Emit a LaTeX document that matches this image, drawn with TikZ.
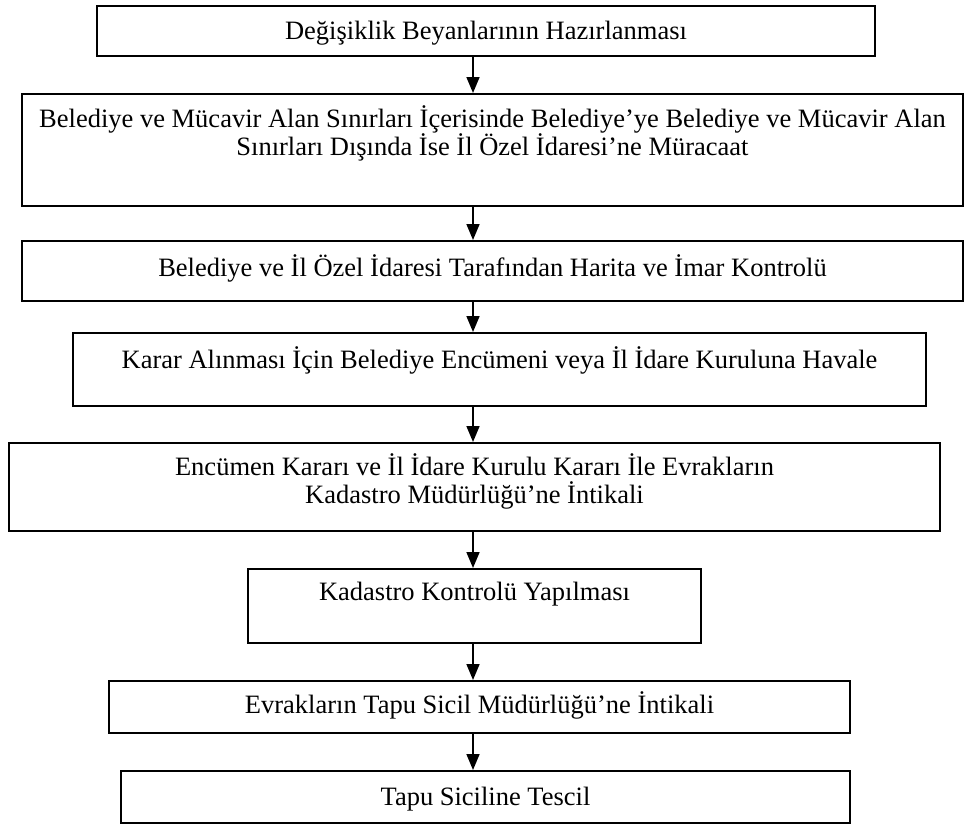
\documentclass[tikz,border=0pt]{standalone}
\usepackage{fontspec}
\setmainfont{Liberation Serif}
\usetikzlibrary{arrows.meta}

\tikzset{
  flowbox/.style={draw=black, line width=1.9pt, rectangle, anchor=north,
    inner sep=0pt, align=center, font=\fontsize{26.5}{28.5}\selectfont},
  flowarrow/.style={line width=1.7pt, -{Triangle[length=16pt,width=13pt]}}
}

\begin{document}
\begin{tikzpicture}[x=1pt, y=-1pt]
  \useasboundingbox (0,0) rectangle (967,825);
  \fill[white] (0,0) rectangle (967,825);

  % vertical axis carrying all the connectors
  \coordinate (axis) at (473,0);

  \node[flowbox, minimum width=778pt, text height=34pt, text depth=16pt]
    (b1) at (486,5) {Değişiklik Beyanlarının Hazırlanması};

  \node[flowbox, minimum width=941pt, text height=62pt, text depth=50pt]
    (b2) at (492.5,93) {Belediye ve Mücavir Alan Sınırları İçerisinde Belediye’ye Belediye ve Mücavir Alan\\
    Sınırları Dışında İse İl Özel İdaresi’ne Müracaat};

  \node[flowbox, minimum width=941pt, text height=36pt, text depth=24pt]
    (b3) at (492.5,240) {Belediye ve İl Özel İdaresi Tarafından Harita ve İmar Kontrolü};

  \node[flowbox, minimum width=853pt, text height=36pt, text depth=37pt]
    (b4) at (499.5,332) {Karar Alınması İçin Belediye Encümeni veya İl İdare Kuruluna Havale};

  \node[flowbox, minimum width=931pt, text height=61pt, text depth=27pt]
    (b5) at (474.5,442) {Encümen Kararı ve İl İdare Kurulu Kararı İle Evrakların\\
    Kadastro Müdürlüğü’ne İntikali};

  \node[flowbox, minimum width=453pt, text height=32pt, text depth=42pt]
    (b6) at (474.5,568) {Kadastro Kontrolü Yapılması};

  \node[flowbox, minimum width=741pt, text height=33pt, text depth=19pt]
    (b7) at (479.5,680) {Evrakların Tapu Sicil Müdürlüğü’ne İntikali};

  \node[flowbox, minimum width=729pt, text height=35pt, text depth=17pt]
    (b8) at (485.5,770) {Tapu Siciline Tescil};

  \foreach \a/\b in {b1/b2, b2/b3, b3/b4, b4/b5, b5/b6, b6/b7, b7/b8}
    \draw[flowarrow] (\a.south -| axis) -- (\b.north -| axis);
\end{tikzpicture}
\end{document}
